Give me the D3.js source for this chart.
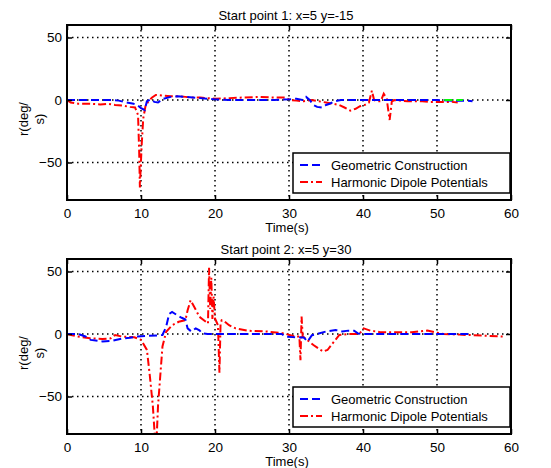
<!DOCTYPE html>
<html>
<head>
<meta charset="utf-8">
<script src="https://cdn.jsdelivr.net/npm/d3@7"></script>
<style>
  body { margin: 0; background: #fff; }
  svg { display: block; font-family: "Liberation Sans", Arial, sans-serif; }
</style>
</head>
<body>
<svg id="chart" width="551" height="468"></svg>
<script>
// ======================
// DATA
// ======================
var xTicks = [0, 10, 20, 30, 40, 50, 60];
var yTicks = [-50, 0, 50];
var seriesNames = ["Geometric Construction", "Harmonic Dipole Potentials"];
var titles = ["Start point 1: x=5 y=-15", "Start point 2: x=5 y=30"];

// start point 1
var geoT1 = [0, 2, 4, 6, 7, 8, 9, 9.5, 10, 10.5, 10.8, 11.3, 11.8, 12.3, 13, 14, 15, 16, 17, 18, 19, 20, 22, 24, 26, 28, 30, 31, 31.8, 32.3, 32.8, 33.3, 33.8, 34.5, 35, 35.5, 36.2, 37, 38, 40, 42, 44, 46, 48, 50, 52, 54, 54.8];
var geoR1 = [0, 0, 0, 0, -0.5, -2, -3, -4, -6.5, -8, -1, 0.5, -1.5, -2, 1, 2.5, 3, 2.5, 2, 1.5, 1, 0.5, 0, 0, 0, 0, 0.5, 1, 0, 2.5, 0, -4, -5.5, -6, -4, -3, -1, 0, 0, 0, 0, 0, 0, 0, 0, -0.5, -0.5, -1];
var harmT1 = [0, 0.5, 1.5, 3, 4.5, 5.5, 6.5, 7.5, 8.5, 9.2, 9.6, 9.75, 9.85, 9.95, 10.1, 10.3, 10.6, 11, 11.5, 12, 13, 14, 15, 16, 17, 18, 19, 20, 22, 24, 26, 28, 29.5, 30.2, 31, 32, 33, 34, 35, 36, 36.8, 37.5, 38.3, 39, 39.6, 40.2, 40.8, 41.2, 41.5, 41.8, 42.4, 42.8, 43.2, 43.6, 43.9, 44.3, 45, 46, 47, 48, 49, 50, 51, 52, 52.8];
var harmR1 = [0, -2, -3, -3, -3.5, -3, -4, -4.5, -5.5, -6, -12, -40, -70, -55, -35, -15, -5, -1, 2, 4, 3.5, 3, 3, 2.5, 2, 2, 1.5, 1, 1.5, 2, 2.5, 2, 2, 0, -0.5, -1, 0, -1, -2, -3, -4, -6, -8.5, -7, -5, -4, -2, 7.5, 0, -1, -1, 5, 1, -16, -1, 0, -0.5, -1, -1, -1, -1.5, -1.5, -1.5, -1.5, -2];
var extraT1 = [51, 53.5];
var extraR1 = [0, 0];

// start point 2
var geoT2 = [0, 1.5, 2.5, 3.2, 4.8, 6.1, 7.4, 8.5, 9.5, 11, 12.5, 12.9, 13.4, 13.8, 14.2, 14.9, 15.5, 16, 16.3, 16.8, 17.4, 17.9, 18.3, 19, 22, 26, 29, 29.5, 30.5, 31.5, 32, 32.5, 33.1, 33.8, 35, 36.3, 37.2, 38, 38.8, 39.3, 40, 44, 48, 52, 54.5];
var geoR2 = [0, 0, -2, -4.7, -6, -5.5, -3.7, -3, -2, -1.5, -1, -0.8, 5.8, 16, 17.7, 15, 13, 11.6, 4.5, 2, 4.5, 3, 0.5, 0, 0, 0, 0, -2, -2.5, -2.7, -2.7, -6, -1, 0, 2, 3.2, 2, 2.7, 2.7, 0.5, 0, 0, 0, 0, 0];
var harmT2 = [0, 0.7, 1.4, 3.1, 4.8, 5.9, 6.5, 7.4, 9.1, 10, 10.8, 11.2, 11.6, 11.9, 12.1, 12.3, 12.5, 12.9, 13.4, 14.2, 15.1, 16, 16.3, 16.7, 17.2, 17.9, 18.5, 19.05, 19.2, 19.35, 19.5, 19.65, 19.8, 20, 20.4, 20.6, 20.75, 20.9, 21.3, 21.9, 22.8, 24.5, 27, 29.3, 30.8, 31.4, 31.55, 31.7, 31.85, 32.2, 33.3, 34.6, 35.2, 35.9, 36.8, 38.1, 39.5, 40.1, 41, 42.3, 44, 46.6, 48.7, 49.6, 50.9, 53, 55, 57, 59];
var harmR2 = [0, -1, -2, -3.4, -4, -3.5, -0.8, -2, -2.6, -4.7, -12.7, -33.8, -57.5, -85, -85, -57.5, -41.7, -10, 1.8, 7, 9.8, 11, 19, 27, 21.6, 13.7, 11, 8.4, 53, 20, 45, 12, 30, 12.4, 7, -31, 8, 11, 10, 7, 4.5, 2.6, 2, 0.5, -2, -2, -21, 14, -2, -3.5, -8.8, -14, -12.8, -7.5, -0.8, 0, 0, 4.5, 2.7, 1.5, 1.5, 1.5, 2.7, 1.5, 0, -0.5, -1, -1.5, -2];

// ########
// # MAIN #
// ########
var svg = d3.select("#chart");
var left = 67, right = 511, plotH = 175;

var x = d3.scaleLinear().domain([0, 60]).range([left, right]);

function zip(t, r) {
  return t.map(function (d, i) { return { t: d, r: r[i] }; });
}

var panels = [
  { top: 25, title: titles[0], series: [
      { data: zip(harmT1, harmR1), color: "#ff0000", dash: "8,3,2,3" },
      { data: zip(geoT1, geoR1), color: "#0000ff", dash: "8,4" },
      { data: zip(extraT1, extraR1), color: "#00ff00", dash: "8,4" }
  ] },
  { top: 259, title: titles[1], series: [
      { data: zip(harmT2, harmR2), color: "#ff0000", dash: "8,3,2,3" },
      { data: zip(geoT2, geoR2), color: "#0000ff", dash: "8,4" }
  ] }
];

panels.forEach(function (p, pi) {
  var y = d3.scaleLinear().domain([-80, 60]).range([p.top + plotH, p.top]);
  var g = svg.append("g");

  // clip for the lines
  svg.append("clipPath").attr("id", "clip" + pi)
    .append("rect").attr("x", left).attr("y", p.top)
    .attr("width", right - left).attr("height", plotH);

  // grid, dotted
  g.append("g").selectAll("line").data(xTicks.slice(1, -1)).enter().append("line")
    .attr("x1", function (d) { return x(d); }).attr("x2", function (d) { return x(d); })
    .attr("y1", p.top).attr("y2", p.top + plotH)
    .attr("stroke", "#000").attr("stroke-width", 1.5).attr("stroke-dasharray", "1.5,3.5");
  g.append("g").selectAll("line").data(yTicks).enter().append("line")
    .attr("y1", function (d) { return y(d); }).attr("y2", function (d) { return y(d); })
    .attr("x1", left).attr("x2", right)
    .attr("stroke", "#000").attr("stroke-width", 1.5).attr("stroke-dasharray", "1.5,3.5");

  // lines
  var line = d3.line().x(function (d) { return x(d.t); }).y(function (d) { return y(d.r); });
  g.append("g").attr("clip-path", "url(#clip" + pi + ")")
    .selectAll("path").data(p.series).enter().append("path")
    .attr("d", function (d) { return line(d.data); })
    .attr("fill", "none")
    .attr("stroke", function (d) { return d.color; })
    .attr("stroke-width", 2)
    .attr("stroke-dasharray", function (d) { return d.dash; });

  // axes (labels + inner ticks)
  var ax = g.append("g").attr("transform", "translate(0," + (p.top + plotH) + ")")
    .call(d3.axisBottom(x).tickValues(xTicks).tickSize(-5).tickPadding(8));
  var axTop = g.append("g").attr("transform", "translate(0," + p.top + ")")
    .call(d3.axisTop(x).tickValues(xTicks).tickSize(-5).tickFormat(""));
  var ay = g.append("g").attr("transform", "translate(" + left + ",0)")
    .call(d3.axisLeft(y).tickValues(yTicks).tickSize(-5).tickPadding(10));
  var ayR = g.append("g").attr("transform", "translate(" + right + ",0)")
    .call(d3.axisRight(y).tickValues(yTicks).tickSize(-5).tickFormat(""));
  [ax, axTop, ay, ayR].forEach(function (a) {
    a.select(".domain").remove();
    a.selectAll(".tick line").attr("stroke", "#000").attr("stroke-width", 1.5);
    a.selectAll("text").attr("font-size", "13.5px").attr("fill", "#000")
      .attr("font-family", "Liberation Sans, Arial, sans-serif");
  });
  ay.selectAll("text").attr("x", -5);

  // frame
  g.append("rect").attr("x", left).attr("y", p.top)
    .attr("width", right - left).attr("height", plotH)
    .attr("fill", "none").attr("stroke", "#000").attr("stroke-width", 2);

  // title + labels
  g.append("text").attr("x", 286).attr("y", p.top - 5)
    .attr("text-anchor", "middle").attr("font-size", "13px").text(p.title);
  g.append("text").attr("x", 287).attr("y", p.top + plotH + 32)
    .attr("text-anchor", "middle").attr("font-size", "13px").text("Time(s)");
  var yl = g.append("text").attr("transform", "translate(28," + (p.top + 94) + ") rotate(-90)")
    .attr("text-anchor", "middle").attr("font-size", "13px");
  yl.append("tspan").attr("x", 0).attr("dy", 0).text("r(deg/");
  yl.append("tspan").attr("x", 0).attr("dy", 16).text("s)");

  // legend
  var lg = g.append("g").attr("transform", "translate(293," + (p.top + 128) + ")");
  lg.append("rect").attr("width", 217).attr("height", 40)
    .attr("fill", "#fff").attr("stroke", "#000").attr("stroke-width", 1.5);
  var items = [p.series[1], p.series[0]];
  items.forEach(function (s, i) {
    var yy = 12 + i * 17;
    lg.append("line").attr("x1", 7).attr("x2", 29).attr("y1", yy).attr("y2", yy)
      .attr("stroke", s.color).attr("stroke-width", 2).attr("stroke-dasharray", s.dash);
    lg.append("text").attr("x", 38).attr("y", yy + 4.5).attr("font-size", "13px")
      .text(seriesNames[i]);
  });
});
</script>
</body>
</html>
